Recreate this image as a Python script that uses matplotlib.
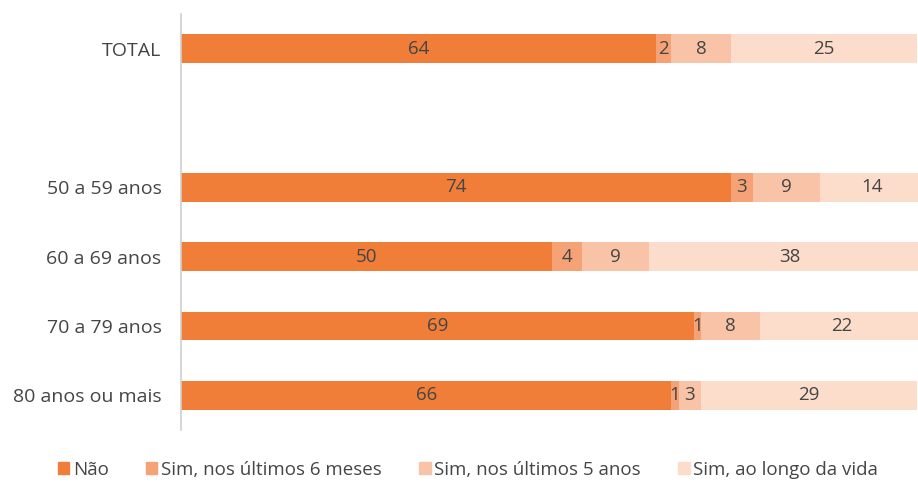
import matplotlib
matplotlib.use("Agg")
import matplotlib.pyplot as plt
import numpy as np

categories = ["TOTAL", "", "50 a 59 anos", "60 a 69 anos", "70 a 79 anos", "80 anos ou mais"]
series_names = ["Não", "Sim, nos últimos 6 meses", "Sim, nos últimos 5 anos", "Sim, ao longo da vida"]
nao = [64, None, 74, 50, 69, 66]
sim6m = [2, None, 3, 4, 1, 1]
sim5a = [8, None, 9, 9, 8, 3]
simvida = [25, None, 14, 38, 22, 29]

colors = ["#F07E39", "#F4A276", "#F8C3A6", "#FCDDCC"]
text_color = "#454545"

plt.rcParams['font.family'] = ['Open Sans', 'DejaVu Sans']

fig = plt.figure(figsize=(9.18, 4.84), dpi=100)
ax = fig.add_axes([181/918, 1-430/484, 1-181/918, 416/484])

series = [nao, sim6m, sim5a, simvida]
ypos = np.arange(len(categories))
for i, cat in enumerate(categories):
    if series[0][i] is None:
        continue
    left = 0
    for s, col in zip(series, colors):
        v = s[i]
        ax.barh(ypos[i], v, left=left, height=0.41, color=col, edgecolor='none')
        ax.text(left + v/2, ypos[i], str(v), ha='center', va='center',
                fontsize=13.5, color=text_color)
        left += v

ax.set_ylim(5.5, -0.5)
ax.set_xlim(0, 99.2)
ax.set_yticks(ypos)
ax.set_yticklabels(categories, fontsize=14, color=text_color)
ax.tick_params(axis='y', length=0, pad=14)
ax.set_xticks([])
for sp in ['top', 'right', 'bottom']:
    ax.spines[sp].set_visible(False)
ax.spines['left'].set_color('#D0D0D0')
ax.spines['left'].set_linewidth(1.2)

handles = [plt.Rectangle((0, 0), 1, 1, color=c) for c in colors]
leg = fig.legend(handles, series_names, loc='center', bbox_to_anchor=(468/918, 1-470/484),
                 ncol=4, frameon=False, fontsize=13.5, handlelength=0.6, handleheight=0.6,
                 handletextpad=0.2, columnspacing=2.0)
for t in leg.get_texts():
    t.set_color(text_color)

fig.savefig("out.png", dpi=100)
